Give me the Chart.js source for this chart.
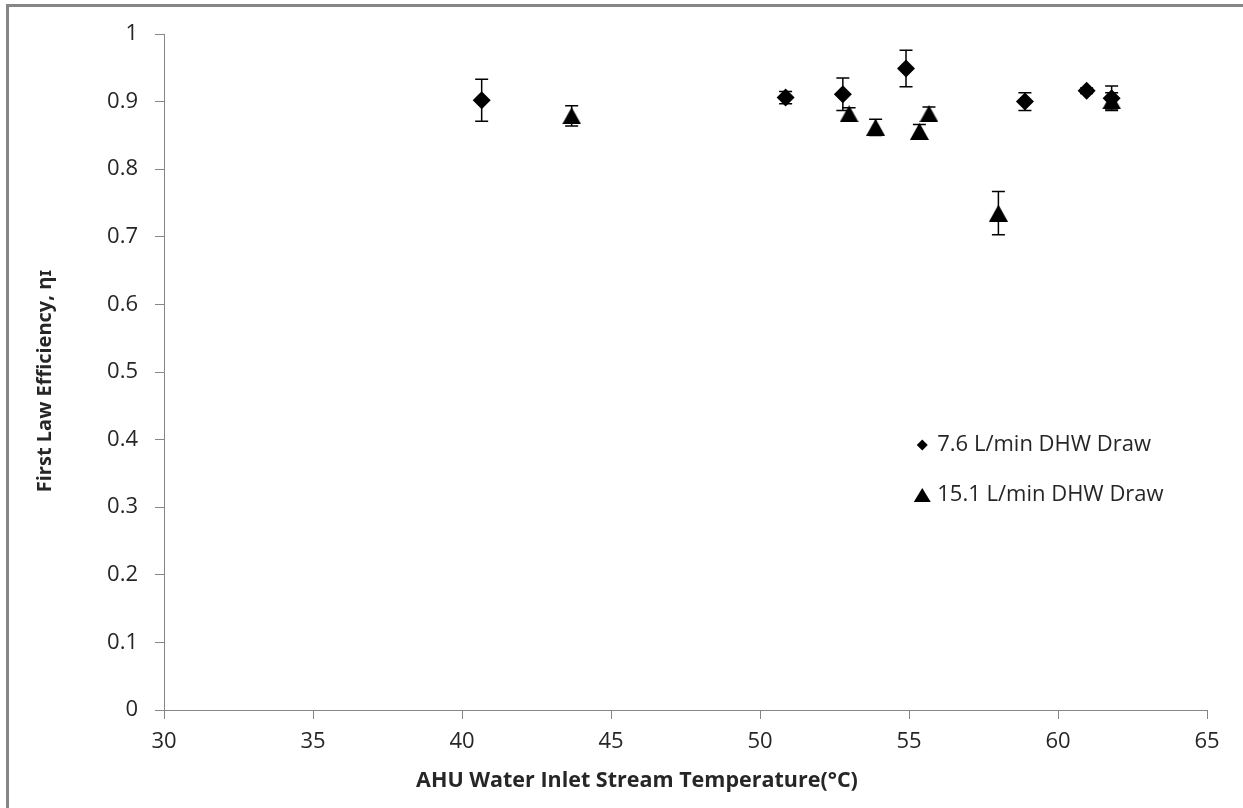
<!DOCTYPE html>
<html>
<head>
<meta charset="utf-8">
<title>First Law Efficiency</title>
<script src="https://cdn.jsdelivr.net/npm/chart.js@4.4.0/dist/chart.umd.min.js"></script>
<style>
  body { margin: 0; background: #fff; }
  canvas { display: block; }
</style>
</head>
<body>
<canvas id="effChart" width="1243" height="808"></canvas>
<script>
// 7.6 L/min DHW draw (diamonds)
const lowFlowTemp = [40.66, 50.86, 52.78, 54.90, 58.89, 60.96, 61.80];
const lowFlowEff = [0.902, 0.906, 0.911, 0.949, 0.900, 0.916, 0.905];
const lowFlowErr = [0.031, 0.009, 0.024, 0.027, 0.013, 0.004, 0.018];

// 15.1 L/min DHW draw (triangles)
const highFlowTemp = [43.68, 52.99, 53.88, 55.35, 55.67, 58.00, 61.80];
const highFlowEff = [0.879, 0.882, 0.862, 0.856, 0.882, 0.735, 0.901];
const highFlowErr = [0.015, 0.009, 0.012, 0.010, 0.010, 0.032, 0.012];

const seriesLabels = ["7.6 L/min DHW Draw", "15.1 L/min DHW Draw"];
const xTitle = "AHU Water Inlet Stream Temperature(°C)";
const yTitle = "First Law Efficiency, ηɪ";

const axisGray = "#868686";
const textColor = "#262626";
const fontFamily = "'Open Sans', 'Noto Sans', sans-serif";

function toPoints(xs, ys) {
    return xs.map((x, i) => ({ x: x, y: ys[i] }));
}

// triangle marker centred on its bounding box (like Excel), not on its centroid
function triangleMarker(w, h) {
    const c = document.createElement('canvas');
    c.width = w;
    c.height = h;
    const g = c.getContext('2d');
    g.fillStyle = "#000";
    g.beginPath();
    g.moveTo(w / 2, 0);
    g.lineTo(w, h);
    g.lineTo(0, h);
    g.closePath();
    g.fill();
    return c;
}

// white background + grey frame around the whole chart
const framePlugin = {
    id: 'frame',
    beforeDraw(chart) {
        const ctx = chart.ctx;
        ctx.save();
        ctx.fillStyle = "#fff";
        ctx.fillRect(0, 0, chart.width, chart.height);
        ctx.strokeStyle = axisGray;
        ctx.lineWidth = 3;
        ctx.strokeRect(7.5, 5.5, chart.width + 20, chart.height + 20);
        ctx.restore();
    }
};

// vertical error bars with caps, drawn under the markers
const errorBarPlugin = {
    id: 'errorBars',
    beforeDatasetsDraw(chart) {
        const ctx = chart.ctx;
        const yScale = chart.scales.y;
        const errs = [lowFlowErr, highFlowErr];
        ctx.save();
        ctx.strokeStyle = "#000";
        ctx.lineWidth = 1.5;
        chart.data.datasets.forEach((ds, di) => {
            const meta = chart.getDatasetMeta(di);
            meta.data.forEach((pt, j) => {
                const v = ds.data[j].y;
                const e = errs[di][j];
                const top = yScale.getPixelForValue(v + e);
                const bot = yScale.getPixelForValue(v - e);
                const x = pt.x;
                ctx.beginPath();
                ctx.moveTo(x, top); ctx.lineTo(x, bot);
                ctx.moveTo(x - 6.5, top); ctx.lineTo(x + 6.5, top);
                ctx.moveTo(x - 6.5, bot); ctx.lineTo(x + 6.5, bot);
                ctx.stroke();
            });
        });
        ctx.restore();
    }
};

// axis titles and the legend, placed like the original
const textPlugin = {
    id: 'texts',
    afterDraw(chart) {
        const ctx = chart.ctx;
        const area = chart.chartArea;
        ctx.save();
        ctx.fillStyle = textColor;
        ctx.textAlign = "center";
        ctx.textBaseline = "middle";
        ctx.font = "bold 21.5px " + fontFamily;
        ctx.fillText(xTitle, 637, 781);

        ctx.font = "bold 20px " + fontFamily;
        ctx.translate(45, 381);
        ctx.rotate(-Math.PI / 2);
        ctx.fillText(yTitle, 0, 0);
        ctx.restore();

        // legend
        const lx = area.left + (area.right - area.left) * 0.727;
        const ly = area.top + (area.bottom - area.top) * 0.608;
        ctx.save();
        ctx.fillStyle = "#000";
        ctx.beginPath();
        ctx.moveTo(lx - 5.5, ly); ctx.lineTo(lx, ly - 5.5);
        ctx.lineTo(lx + 5.5, ly); ctx.lineTo(lx, ly + 5.5);
        ctx.closePath();
        ctx.fill();
        ctx.beginPath();
        ctx.moveTo(lx, ly + 43); ctx.lineTo(lx + 8.5, ly + 57);
        ctx.lineTo(lx - 8.5, ly + 57);
        ctx.closePath();
        ctx.fill();
        ctx.fillStyle = textColor;
        ctx.font = "22px " + fontFamily;
        ctx.textAlign = "left";
        ctx.textBaseline = "middle";
        ctx.fillText(seriesLabels[0], lx + 15, ly);
        ctx.fillText(seriesLabels[1], lx + 15, ly + 50);
        ctx.restore();
    }
};

new Chart(document.getElementById("effChart"), {
    type: 'scatter',
    data: {
        datasets: [{
            label: seriesLabels[0],
            data: toPoints(lowFlowTemp, lowFlowEff),
            pointStyle: 'rectRot',
            pointRadius: 9,
            pointHoverRadius: 9,
            backgroundColor: "#000",
            borderColor: "#000",
            borderWidth: 0
        }, {
            label: seriesLabels[1],
            data: toPoints(highFlowTemp, highFlowEff),
            pointStyle: triangleMarker(19, 17),
            pointRadius: 10,
            pointHoverRadius: 10,
            backgroundColor: "#000",
            borderColor: "#000",
            borderWidth: 0
        }]
    },
    options: {
        responsive: false,
        animation: false,
        layout: { padding: { top: 34, right: 36, left: 0, bottom: 0 } },
        plugins: {
            legend: { display: false },
            tooltip: { enabled: false }
        },
        scales: {
            x: {
                type: 'linear',
                min: 30,
                max: 65,
                afterFit(s) { s.height = 98; },
                border: { display: true, color: axisGray, width: 1 },
                grid: { drawOnChartArea: false, drawTicks: true, tickLength: 9, color: axisGray },
                ticks: {
                    stepSize: 5,
                    padding: 10,
                    color: textColor,
                    font: { family: fontFamily, size: 22 }
                }
            },
            y: {
                min: 0,
                max: 1,
                afterFit(s) { s.width = 164; },
                border: { display: true, color: axisGray, width: 1 },
                grid: { drawOnChartArea: false, drawTicks: true, tickLength: 9, color: axisGray },
                ticks: {
                    stepSize: 0.1,
                    padding: 17,
                    color: textColor,
                    font: { family: fontFamily, size: 22 },
                    callback: v => String(Math.round(v * 10) / 10)
                }
            }
        }
    },
    plugins: [framePlugin, errorBarPlugin, textPlugin]
});
</script>
</body>
</html>
